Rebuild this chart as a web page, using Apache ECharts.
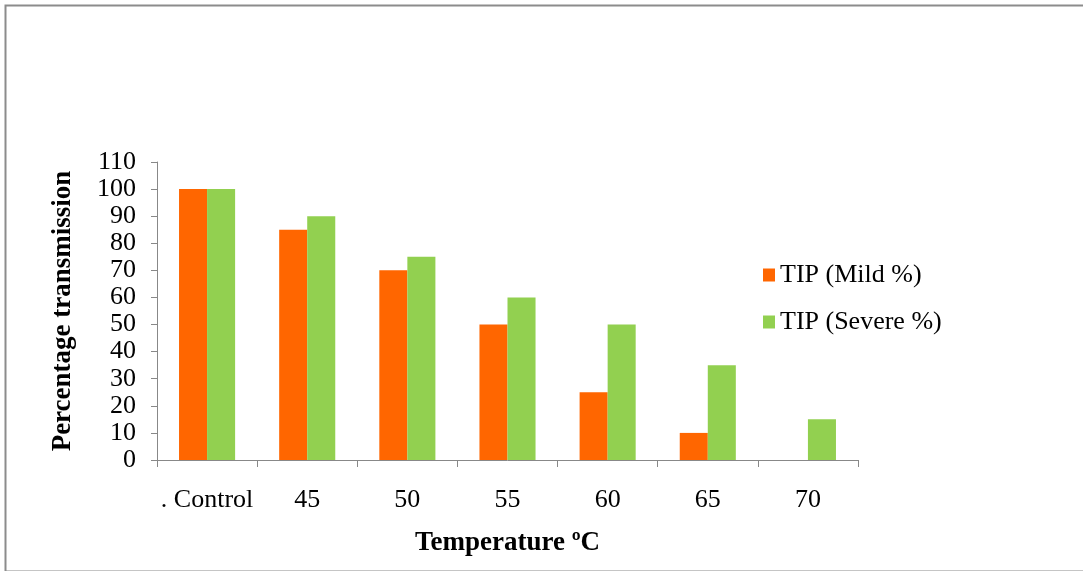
<!DOCTYPE html>
<html>
<head>
<meta charset="utf-8">
<script src="https://cdn.jsdelivr.net/npm/echarts@6/dist/echarts.min.js"></script>
<style>html,body{margin:0;padding:0;background:#fff;}#c{width:1083px;height:571px;}</style>
</head>
<body>
<div id="c"></div>
<script>
const categories = ['. Control', '45', '50', '55', '60', '65', '70'];
const mild = [100, 85, 70, 50, 25, 10, 0];
const severe = [100, 90, 75, 60, 50, 35, 15];
const seriesNames = ['TIP (Mild %)', 'TIP (Severe %)'];
const yTicks = {min: 0, max: 110, interval: 10};

const font = 'Liberation Serif';
const chart = echarts.init(document.getElementById('c'));
chart.setOption({
  animation: false,
  backgroundColor: '#fff',
  graphic: [{
    type: 'rect', left: 3, top: 3,
    shape: {width: 1110, height: 566},
    style: {fill: 'none', stroke: '#8c8c8c', lineWidth: 2}
  }],
  grid: {left: 157, right: 225, top: 162, bottom: 111},
  legend: {
    orient: 'vertical', left: 758, top: 257,
    itemWidth: 12, itemHeight: 13, itemGap: 21,
    icon: 'rect',
    textStyle: {fontFamily: font, fontSize: 26, color: '#000'},
    data: seriesNames
  },
  xAxis: {
    type: 'category', data: categories,
    name: 'Temperature ºC', nameLocation: 'middle', nameGap: 70,
    nameTextStyle: {fontFamily: font, fontSize: 27, fontWeight: 'bold', color: '#000'},
    axisLine: {lineStyle: {color: '#888', width: 1}},
    axisTick: {show: true, interval: 0, length: 7, lineStyle: {color: '#888'}},
    axisLabel: {interval: 0, fontFamily: font, fontSize: 26, color: '#000', margin: 27}
  },
  yAxis: {
    type: 'value', min: yTicks.min, max: yTicks.max, interval: yTicks.interval,
    name: 'Percentage transmission', nameLocation: 'middle', nameGap: 80,
    nameTextStyle: {fontFamily: font, fontSize: 27, fontWeight: 'bold', color: '#000'},
    splitLine: {show: false},
    axisLine: {show: true, lineStyle: {color: '#888', width: 1}},
    axisTick: {show: true, length: 6, lineStyle: {color: '#888'}},
    axisLabel: {fontFamily: font, fontSize: 26, color: '#000', margin: 21}
  },
  series: [
    {name: seriesNames[0], type: 'bar', data: mild, itemStyle: {color: '#FF6600'}, barGap: '0%', barCategoryGap: '44%'},
    {name: seriesNames[1], type: 'bar', data: severe, itemStyle: {color: '#92D050'}, barGap: '0%', barCategoryGap: '44%'}
  ]
});
</script>
</body>
</html>
